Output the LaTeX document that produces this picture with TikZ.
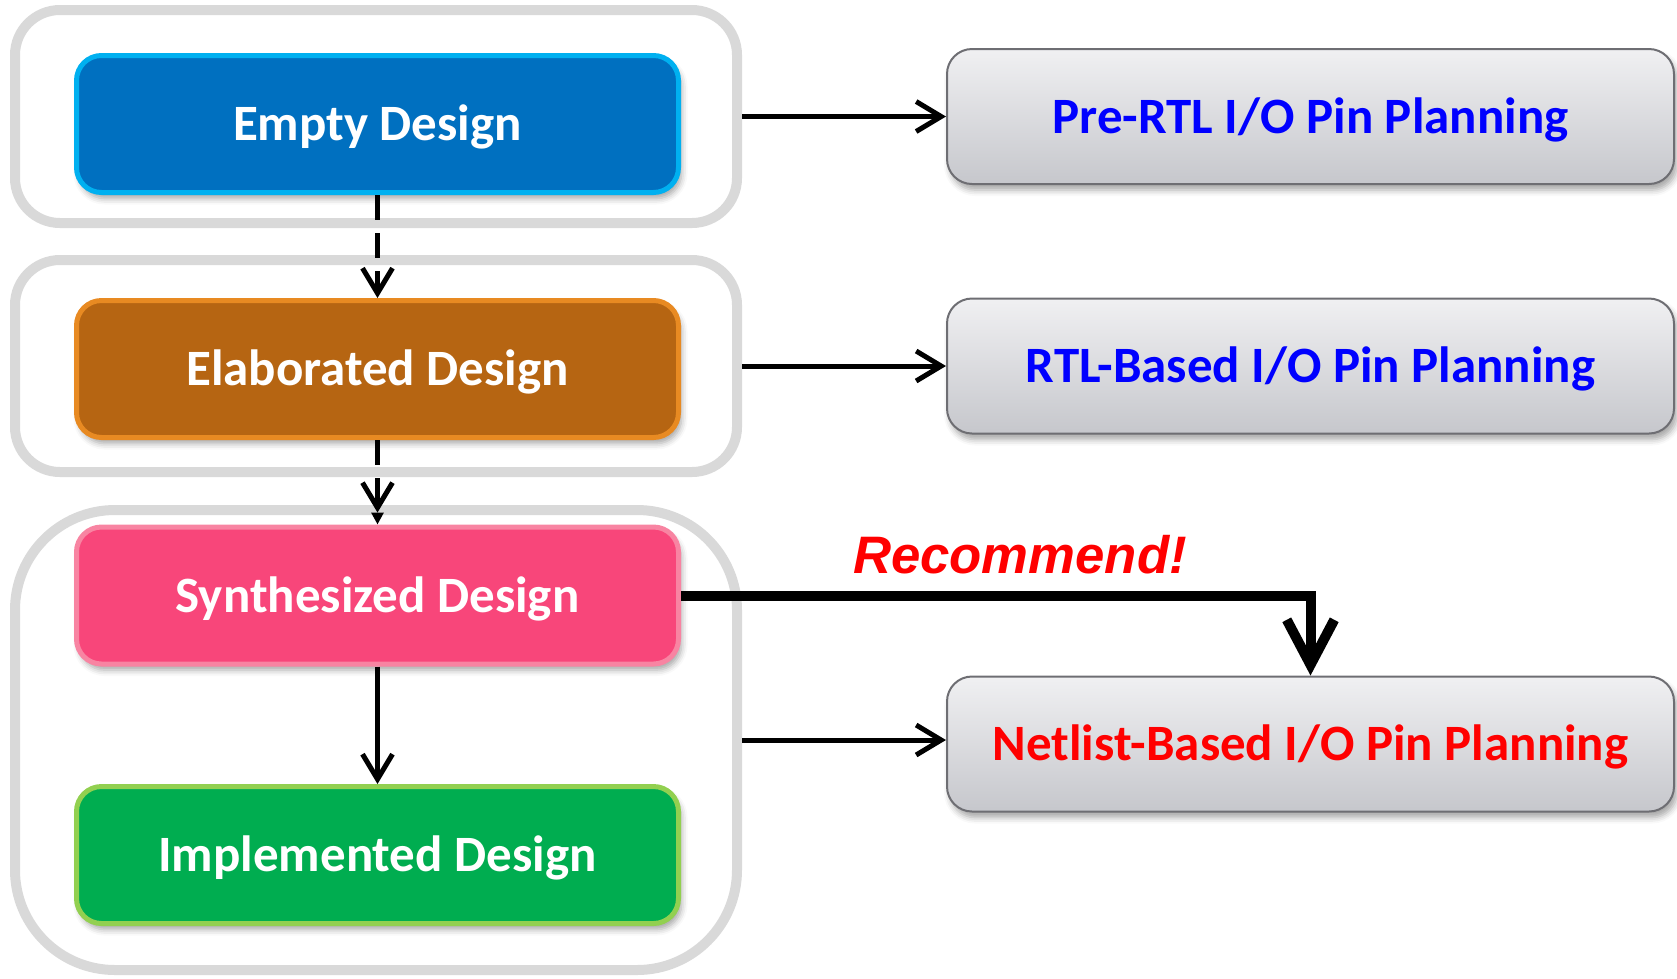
\documentclass[tikz,border=0pt]{standalone}
\usepackage{fontspec}
\setmainfont{Carlito}
\newfontfamily\recfont{Liberation Sans}
\usetikzlibrary{arrows.meta,positioning,fit,shadows.blur}

\definecolor{emptyfill}{RGB}{0,112,192}
\definecolor{emptyline}{RGB}{0,176,240}
\definecolor{elabfill}{RGB}{182,101,18}
\definecolor{elabline}{RGB}{232,138,34}
\definecolor{synfill}{RGB}{248,70,122}
\definecolor{synline}{RGB}{248,132,162}
\definecolor{implfill}{RGB}{0,173,80}
\definecolor{implline}{RGB}{146,208,80}
\definecolor{groupgray}{RGB}{217,217,217}
\definecolor{plantop}{RGB}{240,240,242}
\definecolor{planbot}{RGB}{198,199,204}
\definecolor{planline}{RGB}{110,110,115}
\definecolor{planblue}{RGB}{0,0,255}
\definecolor{planred}{RGB}{255,0,0}

\tikzset{
  stage/.style={rounded corners=0.5cm, line width=0.1cm,
    minimum width=12.04cm, minimum height=2.74cm, text=white,
    text height=0.86cm, text depth=0.2cm,
    font=\bfseries\fontsize{29}{33}\selectfont,
    blur shadow={shadow xshift=0.06cm, shadow yshift=-0.12cm,
      shadow blur radius=0.12cm, shadow opacity=35}},
  plan/.style={rounded corners=0.5cm, draw=planline, line width=0.04cm,
    top color=plantop, bottom color=planbot,
    minimum width=14.54cm, minimum height=2.7cm,
    text height=0.86cm, text depth=0.2cm,
    font=\bfseries\fontsize{29}{33}\selectfont,
    blur shadow={shadow xshift=0.06cm, shadow yshift=-0.12cm,
      shadow blur radius=0.12cm, shadow opacity=35}},
  group/.style={draw=groupgray, line width=0.2cm, inner sep=0pt},
  flow/.style={line width=0.1cm, -{Straight Barb[length=0.5cm,width=0.6cm]}},
  dashflow/.style={flow, dash pattern=on 0.5cm off 0.26cm},
  recflow/.style={line width=0.2cm, -{Straight Barb[length=0.9cm,width=0.95cm]}},
}

\begin{document}
\begin{tikzpicture}
  \useasboundingbox (0,0) rectangle (33.54,-19.56);

  % grey frames round the design stages
  \node[group, rounded corners=0.9cm, fit={(0.3,-0.2) (14.74,-4.46)}] (g1) {};
  \node[group, rounded corners=0.9cm, fit={(0.3,-5.2) (14.74,-9.44)}] (g2) {};
  \node[group, rounded corners=2cm, fit={(0.3,-10.2) (14.74,-19.4)}] (g3) {};

  % design stages
  \node[stage, fill=emptyfill, draw=emptyline] (empty) at (7.55,-2.48) {Empty Design};
  \node[stage, fill=elabfill, draw=elabline] (elab) at (7.55,-7.38) {Elaborated Design};
  \node[stage, fill=synfill, draw=synline] (synth) at (7.55,-11.91) {Synthesized Design};
  \node[stage, fill=implfill, draw=implline] (impl) at (7.55,-17.1) {Implemented Design};

  % pin planning flows
  \node[plan, text=planblue] (prertl) at (26.21,-2.33) {Pre-RTL I/O Pin Planning};
  \node[plan, text=planblue] (rtlbased) at (26.21,-7.32) {RTL-Based I/O Pin Planning};
  \node[plan, text=planred] (netlist) at (26.21,-14.88) {Netlist-Based I/O Pin Planning};

  \draw[dashflow] (empty) -- (elab);
  \draw[dashflow, -{Straight Barb[length=0.5cm,width=0.6cm] Triangle[length=0.24cm,width=0.24cm]}] (elab) -- (synth);
  \draw[flow] (synth) -- (impl);

  \draw[flow] (g1.east) -- (g1.east -| prertl.west);
  \draw[flow] (g2.east) -- (g2.east -| rtlbased.west);
  \draw[flow] (g3.east) -- (g3.east -| netlist.west);

  \draw[recflow] (synth.east) -| (netlist.north);
  \node[anchor=base, text=planred, font=\recfont\bfseries\itshape\fontsize{30}{34}\selectfont] (recnote) at (20.4,-11.46) {Recommend!};
\end{tikzpicture}
\end{document}
